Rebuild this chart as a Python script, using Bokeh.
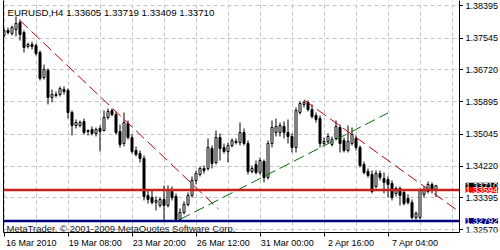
from bokeh.plotting import figure
from bokeh.layouts import row
from bokeh.models import (Range1d, LinearAxis, FixedTicker, Span, Label,
                          PrintfTickFormatter, ColumnDataSource)
from bokeh.embed import file_html
from bokeh.resources import INLINE

title_text = "EURUSD,H4 1.33605 1.33719 1.33409 1.33710"
copyright_text = "MetaTrader, \u00a9 2001-2009 MetaQuotes Software Corp."

open_ = [1.37615, 1.37745, 1.37667, 1.37771, 1.37953, 1.37693, 1.37329, 1.37381, 1.37355, 1.37173,
         1.36523, 1.36705, 1.36003, 1.36081, 1.36081, 1.36211, 1.36185, 1.35613, 1.35275, 1.35275,
         1.35379, 1.35119, 1.35171, 1.35067, 1.35197, 1.35145, 1.35483, 1.35665, 1.35561, 1.35119,
         1.34807, 1.35327, 1.34963, 1.34625, 1.34547, 1.34417, 1.33455, 1.33403, 1.33273, 1.33195,
         1.33351, 1.33195, 1.33559, 1.33429, 1.32831, 1.33013, 1.33221, 1.33455, 1.33845, 1.34001,
         1.34157, 1.34157, 1.34677, 1.34313, 1.34963, 1.34703, 1.34599, 1.34755, 1.34859, 1.34833,
         1.35093, 1.34807, 1.34079, 1.34261, 1.34053, 1.34339, 1.33923, 1.34807, 1.35093, 1.35093,
         1.35249, 1.35093, 1.34989, 1.34703, 1.35613, 1.35821, 1.35873, 1.35691, 1.35535, 1.35457,
         1.34807, 1.34859, 1.34781, 1.34937, 1.35223, 1.34885, 1.34625, 1.34807, 1.34937, 1.34703,
         1.34261, 1.34079, 1.34001, 1.33689, 1.34027, 1.33897, 1.33871, 1.33767, 1.33507, 1.33637,
         1.33533, 1.33377, 1.33273, 1.32883, 1.32883, 1.33481, 1.33559, 1.33741, 1.33605]
high = [1.37797, 1.37823, 1.37875, 1.38109, 1.38031, 1.37745, 1.37433, 1.37459, 1.37407, 1.37225,
        1.36861, 1.36757, 1.36211, 1.36159, 1.36289, 1.36289, 1.36237, 1.35665, 1.35431, 1.35405,
        1.35457, 1.35171, 1.35249, 1.35223, 1.35275, 1.35665, 1.35717, 1.35717, 1.35639, 1.35301,
        1.35613, 1.35405, 1.35041, 1.34729, 1.34625, 1.34495, 1.33611, 1.33585, 1.33429, 1.33403,
        1.33715, 1.33715, 1.33689, 1.33507, 1.33117, 1.33299, 1.33533, 1.33949, 1.34105, 1.34209,
        1.34235, 1.34937, 1.34755, 1.35145, 1.35067, 1.34807, 1.34833, 1.34937, 1.34937, 1.35353,
        1.35197, 1.34885, 1.34235, 1.34365, 1.34443, 1.34391, 1.34885, 1.35405, 1.35457, 1.35353,
        1.35379, 1.35431, 1.35067, 1.35743, 1.35899, 1.35925, 1.35925, 1.35821, 1.35613, 1.35535,
        1.34963, 1.35067, 1.34989, 1.35405, 1.35301, 1.34963, 1.35275, 1.35223, 1.35015, 1.34755,
        1.34339, 1.34157, 1.34105, 1.34105, 1.34105, 1.34053, 1.33949, 1.33845, 1.33689, 1.33689,
        1.33611, 1.33481, 1.33351, 1.33039, 1.33637, 1.33689, 1.33819, 1.33793, 1.33719]
low = [1.37563, 1.37641, 1.37615, 1.37589, 1.37485, 1.37173, 1.37277, 1.37251, 1.37095, 1.36445,
       1.36471, 1.35821, 1.35873, 1.36003, 1.36029, 1.36081, 1.35457, 1.35015, 1.35197, 1.35223,
       1.35041, 1.35015, 1.35015, 1.34989, 1.34599, 1.35119, 1.35431, 1.35509, 1.35041, 1.34703,
       1.34729, 1.34911, 1.34547, 1.34469, 1.34313, 1.33325, 1.33247, 1.33221, 1.33065, 1.33143,
       1.32805, 1.33143, 1.33325, 1.32792, 1.32805, 1.32961, 1.33169, 1.33403, 1.33741, 1.33949,
       1.34027, 1.34105, 1.34157, 1.34261, 1.34365, 1.34547, 1.34313, 1.34703, 1.34781, 1.34755,
       1.34755, 1.34001, 1.34027, 1.34001, 1.34001, 1.33793, 1.33871, 1.34703, 1.34989, 1.34989,
       1.34937, 1.34807, 1.34573, 1.34573, 1.35561, 1.35743, 1.35639, 1.35457, 1.35353, 1.34703,
       1.34755, 1.34807, 1.34729, 1.34885, 1.34573, 1.34573, 1.34573, 1.34755, 1.34625, 1.34183,
       1.34001, 1.33923, 1.33507, 1.33637, 1.33845, 1.33507, 1.33403, 1.33325, 1.33429, 1.33195,
       1.33195, 1.33221, 1.32831, 1.32805, 1.32831, 1.33403, 1.33507, 1.33507, 1.33409]
close = [1.37745, 1.37693, 1.37823, 1.37927, 1.37641, 1.37303, 1.37381, 1.37329, 1.37147, 1.36497,
         1.36731, 1.36003, 1.36081, 1.36055, 1.36237, 1.36159, 1.35613, 1.35275, 1.35353, 1.35353,
         1.35093, 1.35145, 1.35067, 1.35171, 1.35119, 1.35483, 1.35639, 1.35561, 1.35093, 1.34781,
         1.35353, 1.34963, 1.34599, 1.34521, 1.34417, 1.33429, 1.33351, 1.33273, 1.33325, 1.33351,
         1.33195, 1.33585, 1.33403, 1.32831, 1.33013, 1.33221, 1.33455, 1.33845, 1.34027, 1.34157,
         1.34105, 1.34703, 1.34287, 1.34963, 1.34677, 1.34599, 1.34755, 1.34885, 1.34833, 1.35093,
         1.34807, 1.34079, 1.34157, 1.34053, 1.34365, 1.33923, 1.34807, 1.35223, 1.35249, 1.35275,
         1.35093, 1.34989, 1.34703, 1.35665, 1.35847, 1.35873, 1.35691, 1.35509, 1.35431, 1.34807,
         1.34859, 1.34989, 1.34911, 1.35249, 1.34807, 1.34625, 1.34859, 1.35041, 1.34703, 1.34235,
         1.34053, 1.33975, 1.33559, 1.34027, 1.33923, 1.33793, 1.33741, 1.33403, 1.33637, 1.33455,
         1.33247, 1.33273, 1.32883, 1.32987, 1.33585, 1.33611, 1.33741, 1.33611, 1.33710]

date_label_bars = [0, 16, 32, 48, 64, 80, 96]
date_labels = ["16 Mar 2010", "19 Mar 08:00", "23 Mar 20:00", "26 Mar 12:00",
               "31 Mar 00:00", "2 Apr 16:00", "7 Apr 04:00"]
grid_bars = [0, 8, 16, 24, 32, 40, 48, 56, 64, 72, 80, 88, 96, 104, 112]
price_ticks = [1.32570, 1.33395, 1.34220, 1.35045, 1.35895, 1.36720, 1.37545, 1.38395]

red_level = 1.33594
blue_level = 1.32792
last_close = 1.33710

trend_red1_x = [4, 53.6]
trend_red1_y = [1.38005, 1.33104]
trend_red2_x = [75, 114]
trend_red2_y = [1.35938, 1.33018]
trend_green_x = [44, 96]
trend_green_y = [1.32831, 1.35600]

x_start, x_end = -0.125, 113.875
y_start, y_end = 1.32492, 1.38525

FONT = "Liberation Sans"
BOTTOM = 18

shared_y = Range1d(y_start, y_end)

# ---------------- main chart ----------------
p = figure(width=463, height=250, x_range=Range1d(x_start, x_end), y_range=shared_y,
           y_axis_location="right", toolbar_location=None, output_backend="svg",
           min_border_left=3, min_border_right=4, min_border_top=0, min_border_bottom=BOTTOM,
           background_fill_color="white", border_fill_color="white", outline_line_color=None)

p.xgrid.ticker = FixedTicker(ticks=grid_bars)
p.ygrid.ticker = FixedTicker(ticks=price_ticks)
for g in (p.xgrid, p.ygrid):
    g.grid_line_color = "#c4c4c4"
    g.grid_line_dash = "4 3"
    g.grid_line_width = 1

# right axis: line + tick marks (labels are drawn by the price strip axis)
ya = p.yaxis[0]
ya.ticker = FixedTicker(ticks=price_ticks)
ya.major_label_overrides = {t: "" for t in price_ticks}
ya.major_label_text_font_size = "0px"
ya.major_label_standoff = 0
ya.major_tick_out = 4
ya.major_tick_in = 0
ya.minor_tick_out = 0
ya.minor_tick_in = 0
ya.axis_line_color = "black"
ya.major_tick_line_color = "black"

# bottom axis: tick marks only
xa = p.xaxis[0]
xa.ticker = FixedTicker(ticks=date_label_bars)
xa.major_label_overrides = {b: "" for b in date_label_bars}
xa.major_tick_out = 4
xa.major_tick_in = 0
xa.minor_tick_out = 0
xa.minor_tick_in = 0
xa.major_label_standoff = 0
xa.major_label_text_font_size = "0px"
xa.axis_line_color = "black"
xa.major_tick_line_color = "black"

# bottom axis: left-aligned date labels
label_offset = 6.8
lab_ticks = [b + label_offset for b in date_label_bars]
xb = LinearAxis(ticker=FixedTicker(ticks=lab_ticks),
                major_label_overrides={t: s for t, s in zip(lab_ticks, date_labels)},
                axis_line_color=None, major_tick_line_color=None, minor_tick_line_color=None,
                major_tick_out=0, major_tick_in=0, minor_tick_out=0, minor_tick_in=0,
                major_label_standoff=1, major_label_text_font=FONT,
                major_label_text_font_size="9px", major_label_text_color="black")
p.add_layout(xb, "below")

# left border line
xl = LinearAxis(ticker=FixedTicker(ticks=[]), axis_line_color="black",
                major_tick_out=0, major_tick_in=0, minor_tick_out=0, minor_tick_in=0,
                major_label_standoff=0, major_label_text_font_size="0px")
p.add_layout(xl, "left")

# candles
idx = list(range(len(open_)))
src = ColumnDataSource(dict(
    x=idx, o=open_, h=high, l=low, c=close,
    top=[max(o, c) for o, c in zip(open_, close)],
    bot=[min(o, c) for o, c in zip(open_, close)],
    fill=["white" if c >= o else "black" for o, c in zip(open_, close)],
))
p.segment(x0="x", y0="h", x1="x", y1="l", source=src, line_color="black", line_width=1)
p.vbar(x="x", width=0.5, top="top", bottom="bot", source=src,
       fill_color="fill", line_color="black", line_width=1)

# horizontal levels
p.add_layout(Span(location=red_level, dimension="width", line_color="#c8201e", line_width=2.5))
p.add_layout(Span(location=blue_level, dimension="width", line_color="#000080", line_width=2.5))

# trend lines
p.line(trend_red1_x, trend_red1_y, line_color="#c00000", line_width=1, line_dash="11 5")
p.line(trend_red2_x, trend_red2_y, line_color="#c00000", line_width=1, line_dash="11 5")
p.line(trend_green_x, trend_green_y, line_color="#007000", line_width=1, line_dash="11 5")

# texts
p.add_layout(Label(x=4, y=226, x_units="screen", y_units="screen", text=title_text,
                   text_font=FONT, text_font_size="9.7px", text_color="black",
                   text_baseline="top", text_align="left"))
p.add_layout(Label(x=3, y=3.7, x_units="screen", y_units="screen", text=copyright_text,
                   text_font=FONT, text_font_size="9.5px", text_color="#1a1a1a",
                   text_baseline="alphabetic", text_align="left"))

# ---------------- price scale strip ----------------
p2 = figure(width=37, height=250, x_range=Range1d(0, 37), y_range=shared_y,
            x_axis_location=None, y_axis_location=None, toolbar_location=None, output_backend="svg",
            min_border_left=0, min_border_right=0, min_border_top=0, min_border_bottom=BOTTOM,
            background_fill_color="white", border_fill_color="white", outline_line_color=None)
p2.grid.visible = False

pa = LinearAxis(fixed_location=0, ticker=FixedTicker(ticks=price_ticks),
                formatter=PrintfTickFormatter(format="%.5f"),
                axis_line_color=None, major_tick_line_color=None, minor_tick_line_color=None,
                major_tick_out=0, major_tick_in=0, minor_tick_out=0, minor_tick_in=0,
                major_label_standoff=2, major_label_text_font=FONT,
                major_label_text_font_size="9px", major_label_text_color="black")
p2.add_layout(pa, "right")

for val, bg in ((last_close, "black"), (red_level, "#ff0000"), (blue_level, "#000080")):
    p2.add_layout(Label(x=2, y=val, text="%.5f" % val, text_font=FONT, text_font_size="9px",
                        text_color="white", text_baseline="middle", text_align="left",
                        background_fill_color=bg, padding=0))

open("out.html", "w").write(file_html(row(p, p2), INLINE))
